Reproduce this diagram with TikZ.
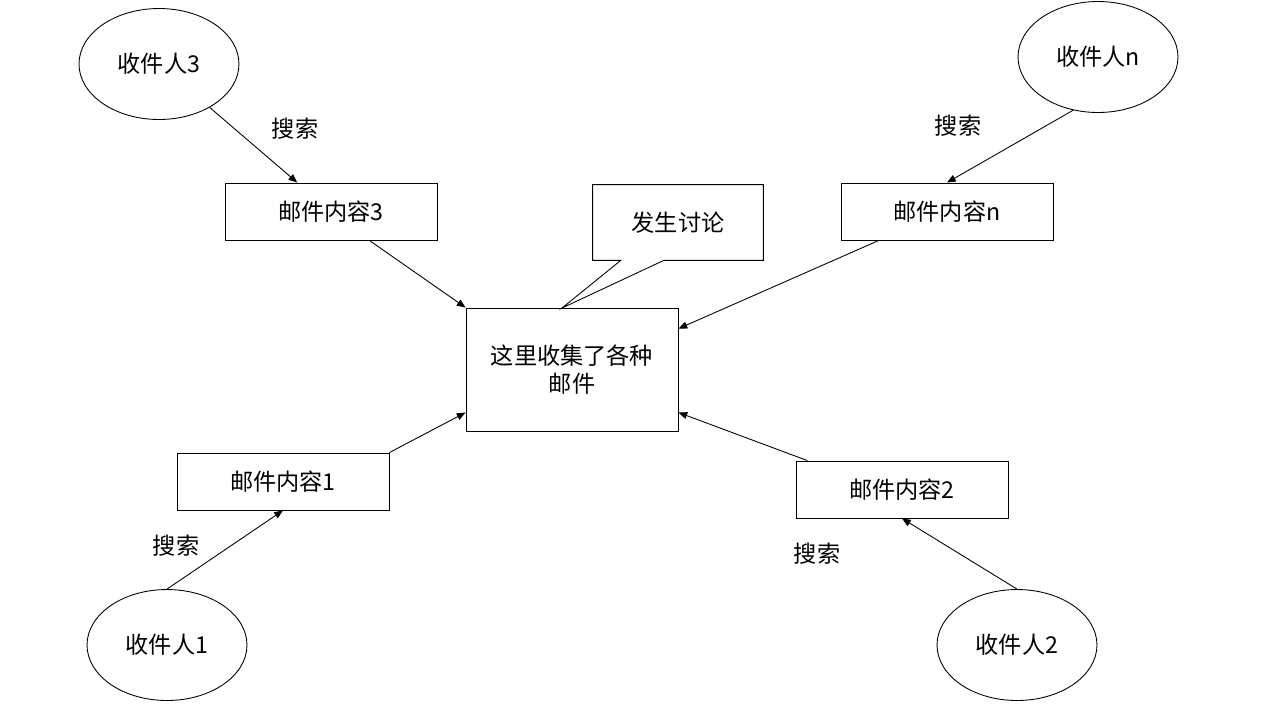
\documentclass[tikz,border=0pt]{standalone}
\usepackage{fontspec}
\newfontfamily\cjk{Noto Sans CJK SC}
\usetikzlibrary{positioning, arrows.meta, shapes.geometric, calc}

\begin{document}
\begin{tikzpicture}[
  x=0.02cm, y=-0.02cm,
  person/.style={ellipse, draw, line width=0.5pt, minimum width=3.2cm, minimum height=2.22cm, font=\cjk\fontsize{13.2}{16}\selectfont},
  mail/.style={rectangle, draw, line width=0.5pt, minimum width=4.24cm, minimum height=1.14cm, font=\cjk\fontsize{13.2}{16}\selectfont},
  lbl/.style={font=\cjk\fontsize{13.2}{16}\selectfont},
  arr/.style={draw, line width=0.5pt, -{Triangle[length=5pt, width=4pt]}},
]
  \useasboundingbox (0,0) rectangle (1265,718);

  % central box
  \node[mail, minimum height=2.46cm, align=center] (hub) at (572,369.5) {这里收集了各种\\邮件};

  % discussion callout
  \node[lbl, minimum width=3.4cm, minimum height=1.5cm] (talk) at (678,222.5) {发生讨论};
  \coordinate (tip) at (562,308);
  \coordinate (tailL) at ($(talk.south west)!0.165!(talk.south east)$);
  \coordinate (tailR) at ($(talk.south west)!0.417!(talk.south east)$);
  \draw[line width=0.5pt] (talk.south west) -- (talk.north west) -- (talk.north east) -- (talk.south east)
    -- (tailR) -- (tip) -- (tailL) -- cycle;

  % recipients
  \node[person] (p3) at (159,64) {收件人3};
  \node[person] (pn) at (1098,57) {收件人n};
  \node[person] (p1) at (167,645) {收件人1};
  \node[person] (p2) at (1017,645) {收件人2};

  % mail contents
  \node[mail] (m3) at (331,211.5) {邮件内容3};
  \node[mail] (mn) at (947,211.5) {邮件内容n};
  \node[mail] (m1) at (283,481.5) {邮件内容1};
  \node[mail] (m2) at (902,489.5) {邮件内容2};

  % search
  \draw[arr] (p3) -- (m3);
  \draw[arr] (pn.-115) -- (mn.north);
  \draw[arr] (p1.north) -- (m1.south);
  \draw[arr] (p2.north) -- (m2.south);
  \node[lbl] (s3) at (295,129) {搜索};
  \node[lbl] (sn) at (958,126) {搜索};
  \node[lbl] (s1) at (176,546) {搜索};
  \node[lbl] (s2) at (817,554) {搜索};

  % collect
  \draw[arr] (m3.-37) -- (hub.north west);
  \draw[arr] (mn.-157) -- (hub.21);
  \draw[arr] (m1.north east) -- (hub.202);
  \draw[arr] (m2.163) -- (hub.-22);
\end{tikzpicture}
\end{document}
